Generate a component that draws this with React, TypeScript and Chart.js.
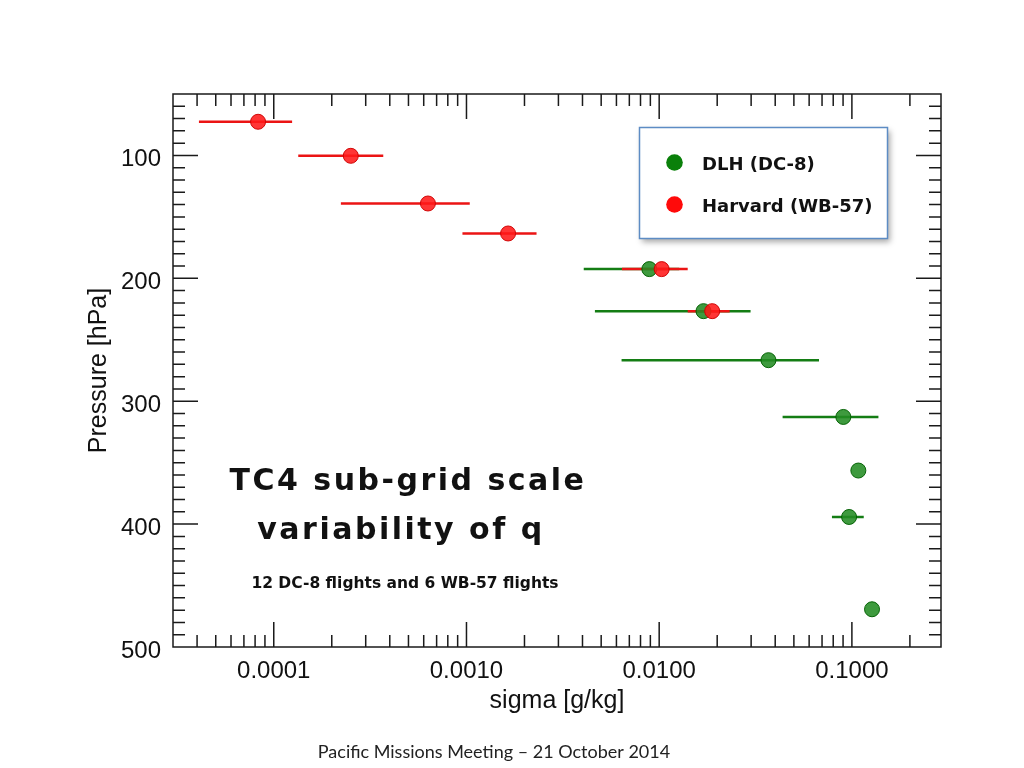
import React, { useEffect, useRef } from "react";
import { Chart, registerables } from "chart.js";

Chart.register(...registerables);

// ---------------- data ----------------
const seriesNames = ["DLH (DC-8)", "Harvard (WB-57)"];

// DLH (DC-8)
const dlhPressure = [192.5, 226.7, 266.6, 312.8, 356.4, 394.2, 469.3];
const dlhSigma = [0.00889, 0.01698, 0.0369, 0.0903, 0.108, 0.0967, 0.1272];
const dlhLow = [0.00406, 0.00464, 0.00638, 0.0437, null, 0.0788, null];
const dlhHigh = [0.0127, 0.0298, 0.0675, 0.1373, null, 0.1152, null];

// Harvard (WB-57)
const harvPressure = [72.6, 100.3, 139.1, 163.5, 192.5, 226.7];
const harvSigma = [0.0000829, 0.000251, 0.000631, 0.001644, 0.0103, 0.01884];
const harvLow = [0.0000409, 0.000134, 0.000223, 0.000953, 0.00641, 0.01406];
const harvHigh = [0.0001245, 0.00037, 0.00104, 0.00231, 0.01406, 0.0232];

const xMajorTicks = [0.0001, 0.001, 0.01, 0.1];
const xTickLabels = ["0.0001", "0.0010", "0.0100", "0.1000"];
const yMajorTicks = [100, 200, 300, 400, 500];

const xTitle = "sigma [g/kg]";
const yTitle = "Pressure [hPa]";
const titleLines = ["TC4 sub-grid scale", "variability of q"];
const subTitle = "12 DC-8 flights and 6 WB-57 flights";
const footer = "Pacific Missions Meeting \u2013 21 October 2014";

const X_MIN = 3e-5;
const X_MAX = 0.29;
const Y_MIN = 50;
const Y_MAX = 500;

// axis tick positions (log minor ticks 1..9 per decade, y every 10 hPa)
const xTickValues: number[] = [];
for (let e = -5; e <= -1; e++) {
  for (let d = 1; d <= 9; d++) {
    const v = Number((d * Math.pow(10, e)).toPrecision(6));
    if (v >= X_MIN && v <= X_MAX) xTickValues.push(v);
  }
}
const yTickValues: number[] = [];
for (let v = Y_MIN; v <= Y_MAX; v += 10) yTickValues.push(v);

const isXMajor = (v: number) => xMajorTicks.findIndex((m) => Math.abs(m - v) / m < 1e-6);
const isYMajor = (v: number) => yMajorTicks.indexOf(v) >= 0;

// colors
const RED = "rgba(255,25,25,0.88)";
const RED_EDGE = "rgba(205,0,0,0.95)";
const RED_BAR = "rgb(235,20,20)";
const GREEN = "rgba(35,140,35,0.88)";
const GREEN_EDGE = "rgba(0,95,0,0.95)";
const GREEN_BAR = "rgb(20,125,20)";

function points(xs: number[], ys: number[]) {
  return xs.map((x, i) => ({ x, y: ys[i] }));
}
function bars(lo: (number | null)[], hi: (number | null)[], ys: number[]) {
  const out: { x: number; y: number | null }[] = [];
  ys.forEach((y, i) => {
    const a = lo[i];
    const b = hi[i];
    if (a == null || b == null) return;
    out.push({ x: a, y });
    out.push({ x: b, y });
    out.push({ x: b, y: null });
  });
  return out;
}

const COMIC = '"DejaVu Sans", sans-serif';

const decorPlugin = {
  id: "decor",
  beforeDatasetsDraw(chart: any) {
    const { ctx, chartArea: a, scales } = chart;
    ctx.save();
    ctx.strokeStyle = "#1a1a1a";
    ctx.lineWidth = 1.5;
    ctx.strokeRect(a.left, a.top, a.right - a.left, a.bottom - a.top);
    ctx.beginPath();
    for (const t of scales.x.ticks) {
      const p = scales.x.getPixelForValue(t.value);
      if (p <= a.left + 1 || p >= a.right - 1) continue;
      const len = isXMajor(t.value) >= 0 ? 25 : 12;
      ctx.moveTo(p, a.bottom);
      ctx.lineTo(p, a.bottom - len);
      ctx.moveTo(p, a.top);
      ctx.lineTo(p, a.top + len);
    }
    for (const t of scales.y.ticks) {
      const p = scales.y.getPixelForValue(t.value);
      if (p <= a.top + 1 || p >= a.bottom - 1) continue;
      const len = isYMajor(t.value) ? 25 : 12;
      ctx.moveTo(a.left, p);
      ctx.lineTo(a.left + len, p);
      ctx.moveTo(a.right, p);
      ctx.lineTo(a.right - len, p);
    }
    ctx.stroke();
    ctx.restore();
  },
  afterDraw(chart: any) {
    const { ctx } = chart;
    ctx.save();
    // legend box
    const bx = 639.5, by = 127.5, bw = 248, bh = 111;
    ctx.save();
    ctx.shadowColor = "rgba(0,0,0,0.35)";
    ctx.shadowBlur = 6;
    ctx.shadowOffsetX = 2;
    ctx.shadowOffsetY = 3;
    ctx.fillStyle = "#fff";
    ctx.fillRect(bx, by, bw, bh);
    ctx.restore();
    ctx.strokeStyle = "#5d8cc4";
    ctx.lineWidth = 1.5;
    ctx.strokeRect(bx, by, bw, bh);
    const legendColors = ["rgb(10,128,10)", "rgb(255,10,10)"];
    const legendY = [162.5, 204.5];
    ctx.font = `bold 18px ${COMIC}`;
    ctx.textBaseline = "alphabetic";
    ctx.textAlign = "left";
    seriesNames.forEach((name, i) => {
      ctx.fillStyle = legendColors[i];
      ctx.beginPath();
      ctx.arc(674.5, legendY[i], 8.3, 0, Math.PI * 2);
      ctx.fill();
      ctx.fillStyle = "#111";
      ctx.fillText(name, 702, legendY[i] + 7);
    });

    // title block
    ctx.fillStyle = "#111";
    ctx.textAlign = "center";
    (ctx as any).letterSpacing = "2.5px";
    ctx.font = `bold 30px ${COMIC}`;
    ctx.fillText(titleLines[0], 408, 490);
    ctx.fillText(titleLines[1], 401, 539);
    (ctx as any).letterSpacing = "0px";
    ctx.font = `bold 15.5px ${COMIC}`;
    ctx.fillText(subTitle, 405, 588);

    // footer
    ctx.font = `18px Lato, "Open Sans", sans-serif`;
    ctx.fillStyle = "#222";
    ctx.fillText(footer, 494, 758);
    ctx.restore();
  },
};

export default function App() {
  const ref = useRef<HTMLCanvasElement | null>(null);
  useEffect(() => {
    if (!ref.current) return;
    const chart = new Chart(ref.current, {
      type: "scatter",
      data: {
        datasets: [
          {
            label: seriesNames[1],
            data: points(harvSigma, harvPressure),
            backgroundColor: RED,
            borderColor: RED_EDGE,
            borderWidth: 1,
            pointRadius: 7.5,
            order: 0,
          },
          {
            label: seriesNames[0],
            data: points(dlhSigma, dlhPressure),
            backgroundColor: GREEN,
            borderColor: GREEN_EDGE,
            borderWidth: 1,
            pointRadius: 7.5,
            order: 1,
          },
          {
            label: seriesNames[1] + " range",
            data: bars(harvLow, harvHigh, harvPressure) as any,
            showLine: true,
            spanGaps: false,
            borderColor: RED_BAR,
            borderWidth: 2.5,
            pointRadius: 0,
            order: 2,
          },
          {
            label: seriesNames[0] + " range",
            data: bars(dlhLow, dlhHigh, dlhPressure) as any,
            showLine: true,
            spanGaps: false,
            borderColor: GREEN_BAR,
            borderWidth: 2.5,
            pointRadius: 0,
            order: 3,
          },
        ],
      },
      options: {
        responsive: false,
        animation: false,
        devicePixelRatio: 1,
        layout: { padding: { left: 59, right: 83, top: 94, bottom: 41 } },
        plugins: { legend: { display: false }, tooltip: { enabled: false } },
        scales: {
          x: {
            type: "logarithmic",
            min: X_MIN,
            max: X_MAX,
            grid: { display: false, drawTicks: false },
            border: { display: false },
            afterBuildTicks: (scale: any) => {
              scale.ticks = xTickValues.map((v) => ({ value: v }));
            },
            afterFit: (scale: any) => {
              scale.height = 80;
            },
            ticks: {
              autoSkip: false,
              maxRotation: 0,
              minRotation: 0,
              padding: 10,
              color: "#111",
              font: { family: '"Liberation Sans", Arial, sans-serif', size: 24 },
              callback: (value: any) => {
                const k = isXMajor(Number(value));
                return k >= 0 ? xTickLabels[k] : "";
              },
            },
            title: {
              display: true,
              text: xTitle,
              color: "#111",
              padding: { top: 0, bottom: 11 },
              font: { family: '"Liberation Sans", Arial, sans-serif', size: 25 },
            },
          },
          y: {
            type: "linear",
            reverse: true,
            min: Y_MIN,
            max: Y_MAX,
            grid: { display: false, drawTicks: false },
            border: { display: false },
            afterBuildTicks: (scale: any) => {
              scale.ticks = yTickValues.map((v) => ({ value: v }));
            },
            afterFit: (scale: any) => {
              scale.width = 114;
            },
            ticks: {
              autoSkip: false,
              padding: 12,
              labelOffset: 4,
              color: "#111",
              font: { family: '"Liberation Sans", Arial, sans-serif', size: 24 },
              callback: (value: any) => (isYMajor(Number(value)) ? String(value) : ""),
            },
            title: {
              display: true,
              text: yTitle,
              color: "#111",
              padding: { top: 25, bottom: 0 },
              font: { family: '"Liberation Sans", Arial, sans-serif', size: 25 },
            },
          },
        },
      },
      plugins: [decorPlugin],
    } as any);
    return () => chart.destroy();
  }, []);
  return (
    <div style={{ position: "absolute", left: 0, top: 0, width: 1024, height: 768 }}>
      <canvas ref={ref} width={1024} height={768} style={{ display: "block", width: 1024, height: 768 }} />
    </div>
  );
}
